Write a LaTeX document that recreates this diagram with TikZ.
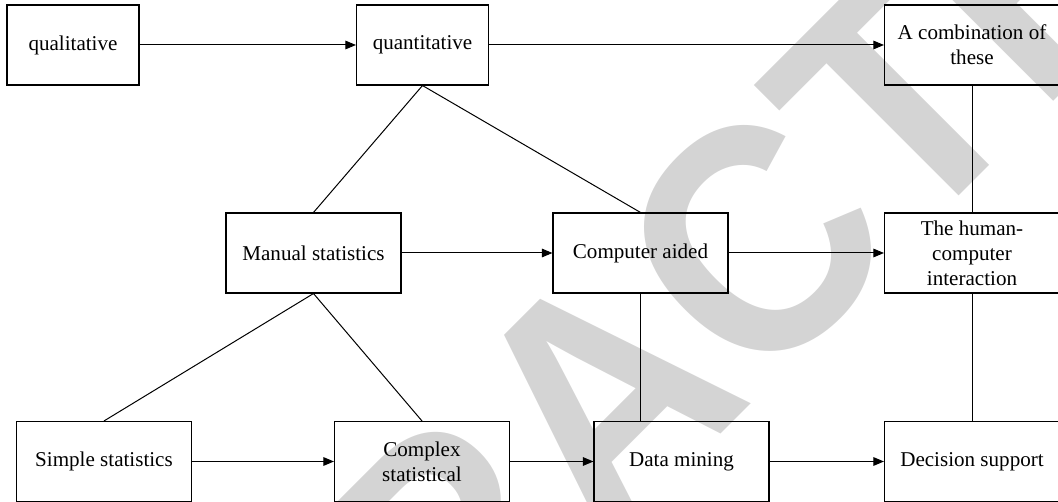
\documentclass[tikz,border=0pt]{standalone}
\usepackage{fontspec}
\setmainfont{Liberation Serif}
\newfontfamily\stampfont{Liberation Sans}
\usetikzlibrary{arrows.meta}

\begin{document}
\begin{tikzpicture}[x=0.75pt,y=0.75pt,yscale=-1,xscale=1,
  box/.style={draw, line width=0.8pt, minimum width=131.25pt, minimum height=60pt,
    inner sep=2pt, align=center, font=\fontsize{15.8}{18.6}\selectfont},
  narrowbox/.style={box, minimum width=99pt},
  arr/.style={-{Triangle[length=8pt,width=6.5pt]}, line width=0.75pt},
  lnk/.style={line width=0.75pt}]
\clip (0,0) rectangle (1058,502);

% watermark
\node [anchor=base west, rotate=45, xscale=0.927, inner sep=0pt, text=black!17,
  font=\stampfont\bfseries\fontsize{243}{243}\selectfont] (stamp) at (25,1130) {RETRACTED};

% top row
\node [narrowbox] (qual) at (73,45) {qualitative};
\node [narrowbox] (quant) at (422.5,45) {quantitative};
\node [box] (comb) at (972,45) {A combination of\\these};

% middle row
\node [box] (manual) at (313.5,253) {Manual statistics};
\node [box] (aided) at (640.5,253) {Computer aided};
\node [box] (human) at (972,253) {The human-\\computer\\interaction};

% bottom row
\node [box] (simple) at (104,461.5) {Simple statistics};
\node [box] (complex) at (422,461.5) {Complex\\statistical};
\node [box] (mining) at (681.5,461.5) {Data mining};
\node [box] (decision) at (972,461.5) {Decision support};

% arrows
\draw [arr] (qual) -- (quant);
\draw [arr] (quant) -- (comb);
\draw [arr] (manual) -- (aided);
\draw [arr] (aided) -- (human);
\draw [arr] (simple) -- (complex);
\draw [arr] (complex) -- (mining);
\draw [arr] (mining) -- (decision);

% plain links
\draw [lnk] (quant.south) -- (manual.north);
\draw [lnk] (quant.south) -- (aided.north);
\draw [lnk] (manual.south) -- (simple.north);
\draw [lnk] (manual.south) -- (complex.north);
\draw [lnk] (aided.south) -- (aided.south |- mining.north);
\draw [lnk] (comb) -- (human);
\draw [lnk] (human) -- (decision);

\end{tikzpicture}
\end{document}
